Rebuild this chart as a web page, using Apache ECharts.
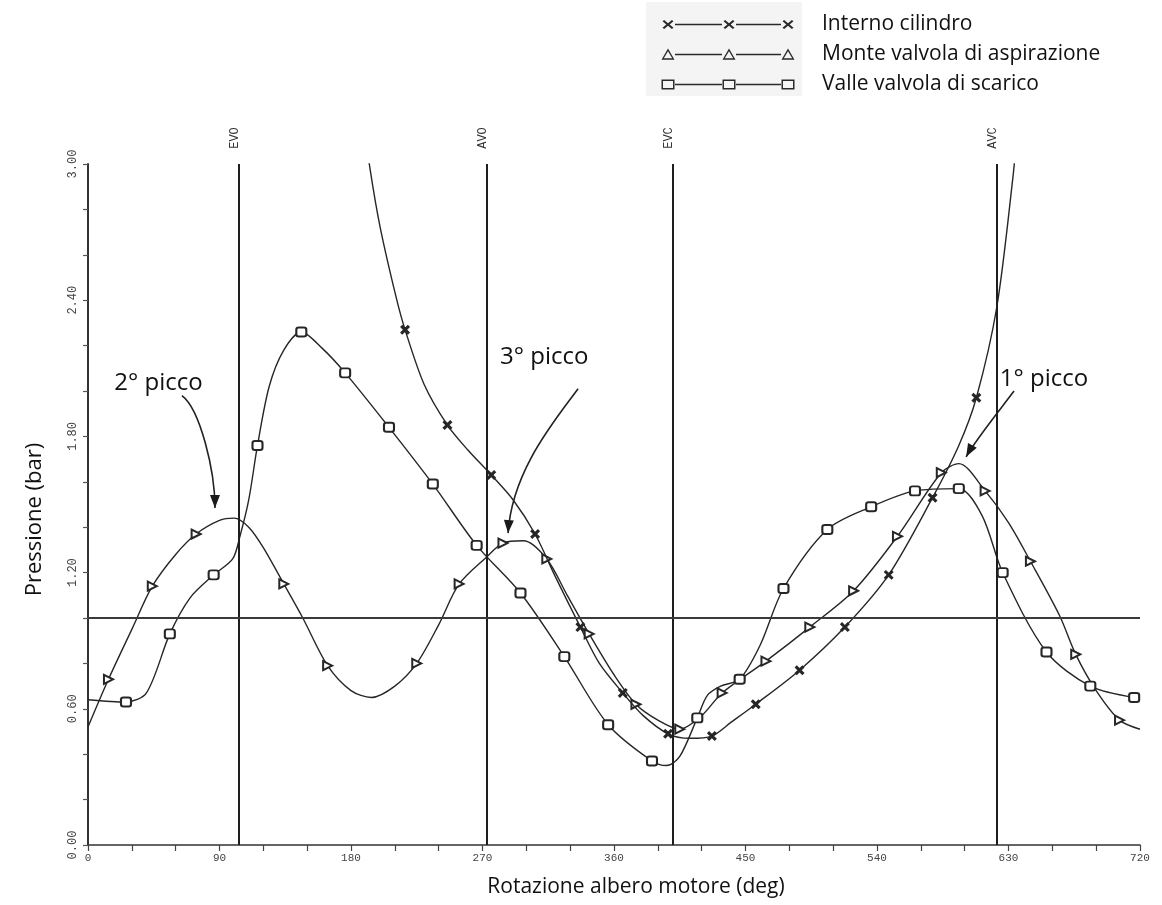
<!DOCTYPE html>
<html>
<head>
<meta charset="utf-8">
<script src="https://cdn.jsdelivr.net/npm/echarts@6/dist/echarts.min.js"></script>
<style>
  html, body { margin: 0; padding: 0; background: #ffffff; }
  #c { width: 1162px; height: 905px; }
</style>
</head>
<body>
<div id="c"></div>
<script>
// Crank angle (deg) and pressure (bar); third value = 1 where a marker is drawn.
const cylinderPressure = [
  [186, 3.30, 0], [193, 2.98, 0], [200, 2.72, 0], [211, 2.41, 0], [217, 2.27, 1],
  [230, 2.03, 0], [246, 1.85, 1], [260, 1.74, 0], [276, 1.63, 1], [291, 1.52, 0],
  [306, 1.37, 1], [320, 1.18, 0], [337, 0.96, 1], [350, 0.80, 0], [366, 0.67, 1],
  [380, 0.57, 0], [397, 0.49, 1], [412, 0.47, 0], [427, 0.48, 1], [440, 0.54, 0],
  [457, 0.62, 1], [487, 0.77, 1], [518, 0.96, 1], [548, 1.19, 1], [578, 1.53, 1],
  [596, 1.76, 0], [608, 1.97, 1], [622, 2.37, 0], [633, 2.94, 0], [636, 3.15, 0]
];
const intakeUpstream = [
  [0, 0.52, 0], [14, 0.73, 1], [30, 0.95, 0], [44, 1.14, 1], [60, 1.28, 0],
  [74, 1.37, 1], [90, 1.43, 0], [100, 1.44, 0], [110, 1.40, 0], [120, 1.31, 0],
  [134, 1.15, 1], [147, 1.00, 0], [164, 0.79, 1], [180, 0.68, 0], [194, 0.65, 0],
  [210, 0.70, 0], [225, 0.80, 1], [240, 0.97, 0], [254, 1.15, 1], [273, 1.27, 0],
  [284, 1.33, 1], [298, 1.34, 0], [314, 1.26, 1], [328, 1.10, 0], [343, 0.93, 1],
  [360, 0.75, 0], [375, 0.62, 1], [390, 0.55, 0], [405, 0.51, 1], [420, 0.57, 0],
  [434, 0.67, 1], [464, 0.81, 1], [494, 0.96, 1], [524, 1.12, 1], [554, 1.36, 1],
  [584, 1.64, 1], [596, 1.68, 0], [614, 1.56, 1], [630, 1.42, 0], [645, 1.25, 1],
  [665, 1.01, 0], [676, 0.84, 1], [690, 0.68, 0], [706, 0.55, 1], [720, 0.51, 0]
];
const exhaustDownstream = [
  [0, 0.64, 0], [26, 0.63, 1], [40, 0.67, 0], [56, 0.93, 1], [70, 1.09, 0],
  [86, 1.19, 1], [99, 1.26, 0], [104, 1.36, 0], [110, 1.52, 0], [116, 1.76, 1],
  [124, 2.02, 0], [134, 2.18, 0], [146, 2.26, 1], [160, 2.19, 0], [176, 2.08, 1],
  [206, 1.84, 1], [236, 1.59, 1], [266, 1.32, 1], [296, 1.11, 1], [326, 0.83, 1],
  [356, 0.53, 1], [386, 0.37, 1], [396, 0.35, 0], [405, 0.39, 0], [417, 0.56, 1],
  [424, 0.66, 0], [433, 0.70, 0], [446, 0.73, 1], [460, 0.88, 0], [476, 1.13, 1],
  [506, 1.39, 1], [536, 1.49, 1], [566, 1.56, 1], [596, 1.57, 1], [612, 1.45, 0],
  [626, 1.20, 1], [656, 0.85, 1], [686, 0.70, 1], [716, 0.65, 1]
];

// Valve timing events (crank angle, deg)
const valveEventNames = ['EVO', 'AVO', 'EVC', 'AVC'];
const valveEventAngles = [103, 273, 400, 622];

// Reference pressure line (bar)
const referencePressure = 1.0;

// Axis ticks
const xLabelStep = 90;
const yLabelValues = [0, 0.6, 1.2, 1.8, 2.4, 3.0];

const seriesNames = ['Interno cilindro', 'Monte valvola di aspirazione', 'Valle valvola di scarico'];
const peakLabels = ['1° picco', '2° picco', '3° picco'];

const INK = '#262626';
const CROSS = 'path://M0,1.5L1.5,0L5,3.5L8.5,0L10,1.5L6.5,5L10,8.5L8.5,10L5,6.5L1.5,10L0,8.5L3.5,5Z';
const TEXT_FONT = '"Open Sans", "Noto Sans", sans-serif';
const TICK_FONT = '"Liberation Mono", "DejaVu Sans Mono", monospace';

function toLineData(points) {
  return points.map(p => p[2]
    ? { value: [p[0], p[1]] }
    : { value: [p[0], p[1]], symbol: 'none' });
}

// ---- legend icons: three markers joined by a thin line (x—x—x) ----
const ICON_W = 134, ICON_H = 16, ICON_CY = 8;
const ICON_MARKS = [7, 68, 127];
function poly(pts) {
  return 'M' + pts.map(p => p[0].toFixed(2) + ',' + p[1].toFixed(2)).join('L') + 'Z';
}
function rectCW(x0, y0, x1, y1) { return poly([[x0, y0], [x1, y0], [x1, y1], [x0, y1]]); }
function rectCCW(x0, y0, x1, y1) { return poly([[x0, y0], [x0, y1], [x1, y1], [x1, y0]]); }
function crossShape(cx, cy) {
  const base = [[0,1.5],[1.5,0],[5,3.5],[8.5,0],[10,1.5],[6.5,5],[10,8.5],[8.5,10],[5,6.5],[1.5,10],[0,8.5],[3.5,5]];
  return poly(base.map(p => [cx - 5.5 + p[0] * 1.1, cy - 4.5 + p[1] * 0.9]));
}
function triangleShape(cx, cy) {
  const outer = poly([[cx, cy - 6], [cx + 6.5, cy + 5.2], [cx - 6.5, cy + 5.2]]);
  const inner = poly([[cx, cy - 3.2], [cx - 4.2, cy + 3.8], [cx + 4.2, cy + 3.8]]);
  return outer + inner;
}
function boxShape(cx, cy) {
  return rectCW(cx - 6.5, cy - 5, cx + 6.5, cy + 5) + rectCCW(cx - 5, cy - 3.5, cx + 5, cy + 3.5);
}
function legendIcon(markShape) {
  let d = 'M0,0ZM' + ICON_W + ',' + ICON_H + 'Z';
  ICON_MARKS.forEach(cx => { d += markShape(cx, ICON_CY); });
  for (let i = 0; i < ICON_MARKS.length - 1; i++) {
    d += rectCW(ICON_MARKS[i] + 7, ICON_CY - 0.75, ICON_MARKS[i + 1] - 7, ICON_CY + 0.75);
  }
  return 'path://' + d;
}
const legendIcons = [legendIcon(crossShape), legendIcon(triangleShape), legendIcon(boxShape)];

const chart = echarts.init(document.getElementById('c'), null, { renderer: 'canvas' });

const baseLine = {
  type: 'line',
  smooth: 0.3,
  showSymbol: true,
  clip: true,
  lineStyle: { color: INK, width: 1.4 },
  itemStyle: { color: INK, borderColor: INK, borderWidth: 1.4 },
  emphasis: { disabled: true }
};

chart.setOption({
  animation: false,
  backgroundColor: '#ffffff',
  grid: { left: 88, right: 22, top: 164, bottom: 60, containLabel: false },
  legend: {
    orient: 'vertical',
    left: 656,
    top: 9,
    itemWidth: ICON_W,
    itemHeight: ICON_H,
    itemGap: 9,
    selectedMode: false,
    symbolKeepAspect: false,
    itemStyle: { color: '#2a2a2a', borderWidth: 0 },
    textStyle: { fontFamily: TEXT_FONT, fontSize: 21, color: '#111', padding: [0, 0, 0, 22] },
    data: seriesNames.map((n, i) => ({ name: n, icon: legendIcons[i] }))
  },
  xAxis: {
    type: 'value',
    min: 0,
    max: 720,
    interval: 30,
    name: 'Rotazione albero motore (deg)',
    nameLocation: 'middle',
    nameGap: 32,
    nameTextStyle: { fontFamily: TEXT_FONT, fontSize: 21, color: '#111', padding: [0, 0, 0, 44] },
    axisLine: { lineStyle: { color: '#333', width: 1.6 } },
    axisTick: { length: 6, lineStyle: { color: '#444', width: 1.2 } },
    splitLine: { show: false },
    axisLabel: {
      margin: 8,
      fontFamily: TICK_FONT,
      fontSize: 11,
      color: '#444',
      formatter: v => (v % xLabelStep === 0 ? String(v) : '')
    }
  },
  yAxis: {
    type: 'value',
    min: 0,
    max: 3,
    interval: 0.2,
    name: 'Pressione (bar)',
    nameLocation: 'middle',
    nameRotate: 90,
    nameGap: 42,
    nameTextStyle: { fontFamily: TEXT_FONT, fontSize: 22, color: '#111', padding: [0, 30, 0, 0] },
    axisLine: { show: true, lineStyle: { color: '#333', width: 2 } },
    axisTick: { show: true, length: 5, lineStyle: { color: '#555', width: 1.2 } },
    splitLine: { show: false },
    axisLabel: {
      rotate: 90,
      margin: 9,
      fontFamily: TICK_FONT,
      fontSize: 12,
      color: '#444',
      formatter: v => (yLabelValues.some(t => Math.abs(t - v) < 1e-6) ? v.toFixed(2) : '')
    }
  },
  series: [
    Object.assign({}, baseLine, {
      name: seriesNames[0],
      symbol: CROSS,
      symbolSize: 8,
      data: toLineData(cylinderPressure),
      z: 4,
      markLine: {
        silent: true,
        symbol: ['none', 'none'],
        label: { show: false },
        lineStyle: { color: '#1e1e1e', width: 2, type: 'solid' },
        data: valveEventAngles.map(a => ({ xAxis: a }))
          .concat([{ yAxis: referencePressure, lineStyle: { color: '#3a3a3a', width: 2 } }])
      }
    }),
    Object.assign({}, baseLine, {
      name: seriesNames[1],
      symbol: 'emptyTriangle',
      symbolRotate: -90,
      symbolSize: 9,
      data: toLineData(intakeUpstream),
      z: 3
    }),
    Object.assign({}, baseLine, {
      name: seriesNames[2],
      symbol: 'emptyRoundRect',
      symbolSize: [10, 9],
      data: toLineData(exhaustDownstream),
      z: 3
    })
  ]
});

// Valve event tags and peak call-outs, placed in data coordinates
const callouts = [
  { label: peakLabels[1], text: [18, 2.035], path: [[64.3, 1.98], [76.7, 1.92], [86.9, 1.65], [86.9, 1.485]] },
  { label: peakLabels[2], text: [282, 2.15], path: [[335.4, 2.01], [319.6, 1.87], [290.2, 1.65], [287.5, 1.374]] },
  { label: peakLabels[0], text: [624, 2.05], path: [[633.8, 2.00], [620.8, 1.89], [607, 1.78], [601, 1.71]] }
];

function drawAnnotations() {
  const px = d => chart.convertToPixel('grid', d);
  const elements = [];
  const topY = px([0, 3])[1];

  // light backing behind the legend keys
  elements.push({
    type: 'rect', z: -10, silent: true,
    shape: { x: 646, y: 2, width: 156, height: 94 },
    style: { fill: '#f4f4f4' }
  });

  valveEventNames.forEach((name, i) => {
    const x = px([valveEventAngles[i], 3])[0];
    elements.push({
      type: 'text',
      x: x - 4,
      y: topY - 26,
      rotation: Math.PI / 2,
      silent: true,
      style: {
        text: name,
        font: '12px ' + TICK_FONT,
        fill: '#333',
        textAlign: 'center',
        textVerticalAlign: 'middle'
      }
    });
  });

  callouts.forEach(c => {
    const t = px(c.text);
    elements.push({
      type: 'text',
      x: t[0],
      y: t[1],
      silent: true,
      style: {
        text: c.label,
        font: '24px ' + TEXT_FONT,
        fill: '#111',
        textAlign: 'left',
        textVerticalAlign: 'middle'
      }
    });
    const [p0, p1, p2, p3] = c.path.map(px);
    elements.push({
      type: 'bezierCurve',
      silent: true,
      shape: {
        x1: p0[0], y1: p0[1],
        cpx1: p1[0], cpy1: p1[1],
        cpx2: p2[0], cpy2: p2[1],
        x2: p3[0], y2: p3[1]
      },
      style: { stroke: '#222', lineWidth: 1.6, fill: null }
    });
    // arrow head along the final tangent
    let dx = p3[0] - p2[0], dy = p3[1] - p2[1];
    const len = Math.hypot(dx, dy) || 1;
    dx /= len; dy /= len;
    const L = 13, W = 5;
    const bx = p3[0] - dx * L, by = p3[1] - dy * L;
    elements.push({
      type: 'polygon',
      silent: true,
      shape: {
        points: [
          [p3[0], p3[1]],
          [bx - dy * W, by + dx * W],
          [bx + dy * W, by - dx * W]
        ]
      },
      style: { fill: '#1a1a1a' }
    });
  });

  chart.setOption({ graphic: { elements } });
}

drawAnnotations();
</script>
</body>
</html>
